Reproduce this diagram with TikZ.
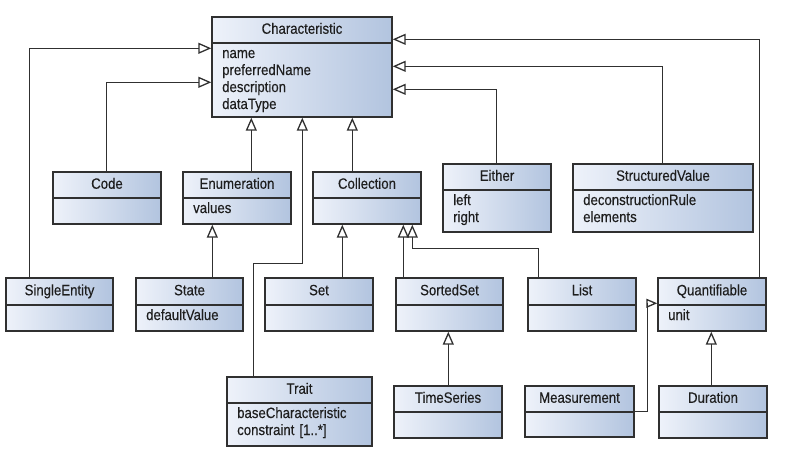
\documentclass[tikz,border=0pt]{standalone}
\usepackage{fontspec}
\setmainfont[FakeStretch=0.88, FakeBold=0.3]{Liberation Sans}
\usetikzlibrary{arrows.meta,fit,calc}
\definecolor{umlborder}{HTML}{303030}
\definecolor{umltext}{HTML}{1E1E1E}
\definecolor{umlleft}{HTML}{EEF2FA}
\definecolor{umlright}{HTML}{B2C4DF}
\tikzset{
  clsbox/.style={draw=umlborder, line width=1.4pt, left color=umlleft, right color=umlright, inner sep=0pt},
  divline/.style={draw=umlborder, line width=1.4pt},
  titletext/.style={inner sep=0pt, text=umltext, font=\fontsize{15}{17}\selectfont, text height=10.8pt, text depth=2.6pt},
  attrtext/.style={inner sep=0pt, text=umltext, anchor=base west, align=left, text width=160pt, font=\fontsize{15}{17}\selectfont},
  gen/.style={draw=umlborder, line width=1.3pt, -{Triangle[open, length=13pt, width=11pt, line width=1.3pt]}},
  gensmall/.style={draw=umlborder, line width=1.3pt, -{Triangle[open, length=11pt, width=9pt, line width=1.3pt]}}
}
\newcommand{\umlbox}[8]{%
  \coordinate (#1-nw) at (#2,#3);
  \coordinate (#1-se) at (#4,#5);
  \node[clsbox, fit=(#1-nw)(#1-se)] (#1) {};
  \coordinate (#1-dv) at (#2,#6);
  \draw[divline] (#1.west |- #1-dv) -- (#1.east |- #1-dv);
  \node[titletext] (#1-title) at ($(#1.north)!0.5!(#1.north |- #1-dv)$) {#7};
  \node[attrtext] (#1-attrs) at ([xshift=10pt, yshift=-15pt]#1-dv) {#8};
}
\begin{document}
\begin{tikzpicture}[x=1pt, y=-1pt]
\useasboundingbox (0,0) rectangle (805,474);
% classes
\umlbox{char}{212}{17}{392}{117}{43}{Characteristic}{name\\preferredName\\description\\dataType}
\umlbox{code}{53}{172}{161}{224}{198}{Code}{}
\umlbox{enum}{183}{172}{291}{224}{198}{Enumeration}{values}
\umlbox{coll}{313}{172}{421}{224}{198}{Collection}{}
\umlbox{either}{443}{164}{551}{232}{190}{Either}{left\\right}
\umlbox{struct}{573}{164}{753}{232}{190}{StructuredValue}{deconstructionRule\\elements}
\umlbox{single}{6}{278}{113}{331}{305}{SingleEntity}{}
\umlbox{state}{136}{278}{243}{331}{305}{State}{defaultValue}
\umlbox{set}{265}{278}{373}{331}{305}{Set}{}
\umlbox{sorted}{396}{278}{503}{331}{305}{SortedSet}{}
\umlbox{list}{528}{278}{636}{331}{305}{List}{}
\umlbox{quant}{658}{278}{766}{331}{305}{Quantifiable}{unit}
\umlbox{trait}{227}{377}{372}{446}{403}{Trait}{baseCharacteristic\\constraint [1..*]}
\umlbox{time}{394}{386}{502}{438}{412}{TimeSeries}{}
\umlbox{meas}{525}{386}{634}{437}{412}{Measurement}{}
\umlbox{dur}{659}{386}{767}{438}{412}{Duration}{}
% connector anchors
\coordinate (c-single) at ([xshift=24pt]single.north west);
\coordinate (c-code) at ([xshift=54pt]code.north west);
\coordinate (c-enum) at ([xshift=69pt]enum.north west);
\coordinate (c-trait) at ([xshift=27pt]trait.north west);
\coordinate (c-traitbend) at ([xshift=91pt, yshift=-146pt]char.south west);
\coordinate (c-coll) at ([xshift=40pt]coll.north west);
\coordinate (c-either) at ([xshift=54pt]either.north west);
\coordinate (c-struct) at ([xshift=90pt]struct.north west);
\coordinate (c-quant) at ([xshift=102pt]quant.north west);
\coordinate (c-state) at ([xshift=77pt]state.north west);
\coordinate (c-set) at ([xshift=78pt]set.north west);
\coordinate (c-sorted) at ([xshift=8pt]sorted.north west);
\coordinate (c-list) at ([xshift=11pt]list.north west);
\coordinate (c-listbend) at ([xshift=100pt, yshift=-24pt]coll.south west);
\coordinate (c-time) at ([xshift=55pt]time.north west);
\coordinate (c-meas) at ([yshift=-26pt]meas.north east);
\coordinate (c-measq) at ([yshift=-26pt]quant.north west);
\coordinate (c-dur) at ([xshift=53pt]dur.north west);
% generalizations
\draw[gen] (c-single) |- ([yshift=-32pt]char.north west);
\draw[gen] (c-code) |- ([yshift=-66pt]char.north west);
\draw[gen] (c-enum) -- (c-enum |- char.south);
\draw[gen] (c-trait) |- (c-traitbend) -- (c-traitbend |- char.south);
\draw[gen] (c-coll) -- (c-coll |- char.south);
\draw[gen] (c-either) |- ([yshift=-73pt]char.north east);
\draw[gen] (c-struct) |- ([yshift=-50pt]char.north east);
\draw[gen] (c-quant) |- ([yshift=-23pt]char.north east);
\draw[gen] (c-state) -- (c-state |- enum.south);
\draw[gen] (c-set) -- (c-set |- coll.south);
\draw[gen] (c-sorted) -- (c-sorted |- coll.south);
\draw[gen] (c-list) |- (c-listbend) -- (c-listbend |- coll.south);
\draw[gen] (c-time) -- (c-time |- sorted.south);
\draw[gensmall] (c-meas) -- ++(13,0) |- (c-measq);
\draw[gen] (c-dur) -- (c-dur |- quant.south);
\end{tikzpicture}
\end{document}
